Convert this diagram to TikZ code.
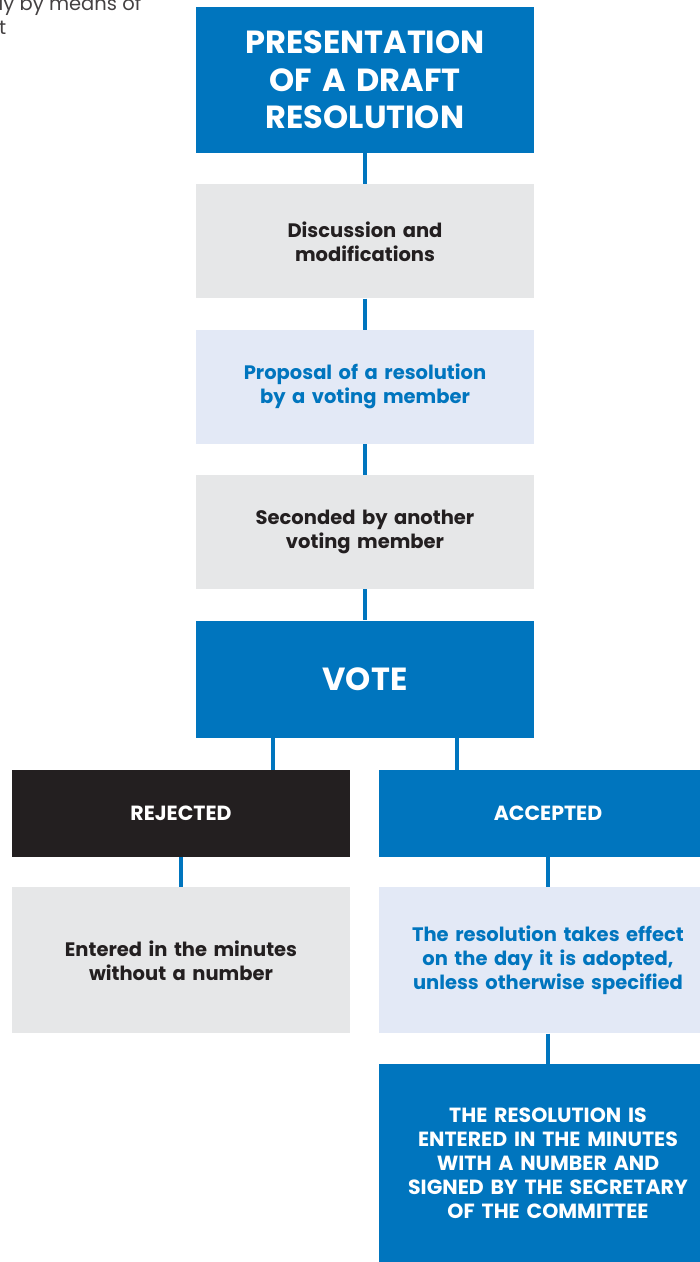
\documentclass[tikz,border=0pt]{standalone}
\usepackage{fontspec}
\setmainfont{Poppins}
\usepackage{xcolor}
\usetikzlibrary{positioning}

\definecolor{resblue}{RGB}{0,117,190}
\definecolor{resgray}{RGB}{230,231,232}
\definecolor{respale}{RGB}{227,233,246}
\definecolor{resdark}{RGB}{35,31,32}
\definecolor{restext}{RGB}{35,31,32}

\begin{document}
\begin{tikzpicture}[x=1pt, y=-1pt, node distance=31pt]
  \tikzset{
    box/.style={rectangle, inner sep=0pt, minimum width=338pt, minimum height=114pt,
                text centered, align=center, text width=330pt},
    bigbox/.style={box, fill=resblue, text=white,
                   font=\fontsize{32}{37.5}\selectfont\bfseries},
    greybox/.style={box, fill=resgray, text=restext,
                    font=\fontsize{19.5}{24}\selectfont\bfseries},
    palebox/.style={box, fill=respale, text=resblue,
                    font=\fontsize{19.5}{24}\selectfont\bfseries},
    sidebox/.style={rectangle, inner sep=0pt, minimum width=338pt, minimum height=87pt,
                    text centered, align=center, text width=330pt, text=white,
                    font=\fontsize{20.5}{24}\selectfont\bfseries},
    link/.style={draw=resblue, line width=4pt}
  }
  \useasboundingbox (0,0) rectangle (700,1262);
  % cut-off text of the page
  \node[anchor=base west, inner sep=0pt, text=restext!85,
        font=\fontsize{19.5}{19}\selectfont] (cut1) at (-1.5,10) {ly by means of};
  \node[anchor=base west, inner sep=0pt, text=restext!85,
        font=\fontsize{19.5}{19}\selectfont] (cut2) at (-1,34) {t};
  % main chain
  \node[bigbox, minimum height=146pt] (draft) at (365,80)
    {PRESENTATION\\OF A DRAFT\\RESOLUTION};
  \node[greybox, below=of draft] (disc) {Discussion and\\modifications};
  \node[palebox, below=of disc]  (prop) {Proposal of a resolution\\by a voting member};
  \node[greybox, below=of prop]  (sec)  {Seconded by another\\voting member};
  \node[bigbox, below=of sec, minimum height=117pt] (vote) {VOTE};
  \foreach \a/\b in {draft/disc,disc/prop,prop/sec,sec/vote}
    \draw[link] (\a) -- (\b);
  % branches
  \node[sidebox, fill=resdark] (rej) at (181,813.5) {REJECTED};
  \node[sidebox, fill=resblue] (acc) at (548,813.5) {ACCEPTED};
  \draw[link] ([xshift=77pt]vote.south west) -- ([xshift=77pt]vote.south west |- rej.north);
  \draw[link] ([xshift=261pt]vote.south west) -- ([xshift=261pt]vote.south west |- acc.north);
  \node[greybox, minimum height=146pt, below=30pt of rej] (minutes)
    {Entered in the minutes\\without a number};
  \node[palebox, minimum height=146pt, below=30pt of acc] (effect)
    {The resolution takes effect\\on the day it is adopted,\\unless otherwise specified};
  \node[box, fill=resblue, text=white, minimum height=199pt,
        font=\fontsize{20.5}{24}\selectfont\bfseries, below=30pt of effect] (signed)
    {THE RESOLUTION IS\\ENTERED IN THE MINUTES\\WITH A NUMBER AND\\SIGNED BY THE SECRETARY\\OF THE COMMITTEE};
  \draw[link] (rej) -- (minutes);
  \draw[link] (acc) -- (effect);
  \draw[link] (effect) -- (signed);
\end{tikzpicture}
\end{document}
